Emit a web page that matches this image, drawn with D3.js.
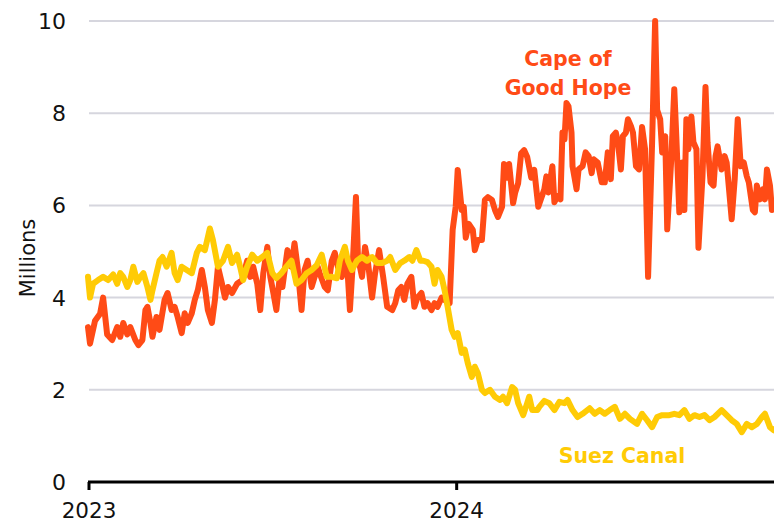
<!DOCTYPE html>
<html lang="en">
<head>
<meta charset="utf-8">
<title>Cape of Good Hope vs Suez Canal</title>
<script src="https://d3js.org/d3.v7.min.js"></script>
<style>
  html, body { margin: 0; padding: 0; background: #fff; }
  svg text { font-family: "DejaVu Sans", "Noto Sans", sans-serif; }
</style>
</head>
<body>
<div id="container"></div>
<script>
// days since 1 Jan 2023 and values (millions)
var capeDays = [0,2,7,12,15,19,24,29,32,35,39,42,47,50,54,57,59,62,64,68,71,76,79,83,86,89,93,96,99,103,106,109,113,116,119,123,126,129,133,136,139,143,148,153,158,161,164,168,171,174,178,181,184,187,190,193,198,202,205,208,212,215,218,222,225,228,230,235,238,242,245,248,252,255,258,260,263,266,268,272,275,278,282,285,289,293,297,302,305,308,311,314,317,321,324,327,331,334,337,341,344,347,351,354,359,362,365,367,371,373,375,378,382,384,387,391,394,397,401,404,407,411,413,416,418,422,424,427,430,433,436,440,443,447,453,455,457,461,463,466,469,471,473,475,477,480,481,485,487,491,494,497,500,502,506,510,513,516,519,521,524,526,529,531,534,536,539,541,544,547,550,553,556,560,563,565,568,570,573,575,579,582,584,587,590,592,594,596,599,601,604,606,610,613,615,618,621,623,625,629,632,634,639,642,645,648,651,654,656,660,662,664,667,670,672,674,677,679,681];
var capeValues = [3.36,3.0,3.5,3.65,4.0,3.2,3.08,3.36,3.15,3.45,3.2,3.36,3.08,2.97,3.08,3.73,3.8,3.45,3.15,3.58,3.3,3.95,4.1,3.73,3.8,3.58,3.23,3.66,3.45,3.66,3.95,4.16,4.6,4.23,3.73,3.45,3.95,4.67,4.3,4.0,4.23,4.1,4.3,4.38,4.8,4.45,4.67,4.3,3.73,4.53,5.1,4.45,4.1,3.73,4.38,4.23,5.03,4.67,5.18,4.67,3.73,4.6,4.8,4.23,4.45,4.67,4.53,4.23,4.16,4.8,4.97,4.67,4.45,4.88,4.45,3.73,4.8,6.18,4.88,4.45,5.1,4.75,4.0,4.53,5.03,4.45,3.8,3.73,3.88,4.16,4.23,3.95,4.3,4.45,3.8,4.0,4.1,3.8,3.88,3.73,3.88,3.8,4.0,3.95,3.88,5.47,5.97,6.77,5.9,5.97,5.3,5.6,5.47,5.03,5.25,5.25,6.12,6.18,6.12,5.9,5.75,5.97,6.9,6.6,6.9,6.05,6.27,6.48,7.13,7.2,7.05,6.6,6.77,5.97,6.35,6.63,6.28,6.85,6.07,6.2,6.13,7.58,7.43,8.22,8.15,7.58,6.85,6.35,6.78,6.85,7.15,7.07,6.7,7.0,6.93,6.5,6.5,7.15,6.57,7.5,7.58,7.37,6.78,7.5,7.58,7.87,7.72,7.58,6.85,6.78,7.7,7.22,4.45,7.37,10.0,8.07,7.87,7.15,7.5,5.48,7.0,8.52,7.5,5.85,6.93,5.9,7.87,7.22,7.93,7.37,7.22,5.08,6.63,8.57,7.37,6.5,6.43,7.07,7.28,6.78,7.07,6.93,5.7,6.57,7.87,6.85,6.93,6.63,6.5,5.9,5.85,6.43,6.13,6.35,6.13,6.78,6.43,5.9,5.97];

var suezDays = [0,2,5,10,15,20,25,29,32,35,39,42,45,49,52,55,59,62,64,68,71,74,78,83,86,89,93,98,103,108,111,116,121,124,129,134,139,143,148,151,154,158,163,168,173,178,183,187,192,197,202,207,212,217,222,227,232,237,242,247,250,255,258,262,267,272,277,282,287,292,297,300,305,310,314,319,322,326,330,333,337,341,344,347,351,354,357,361,364,367,371,374,377,381,384,387,391,394,399,404,409,412,416,421,424,427,432,436,438,441,446,448,453,458,463,468,473,476,481,486,491,498,503,508,513,518,523,528,533,538,545,550,555,560,565,570,577,582,587,592,597,602,607,612,617,622,629,634,639,644,649,654,659,664,669,672,677,681];
var suezValues = [4.45,4.0,4.3,4.38,4.45,4.38,4.5,4.3,4.53,4.45,4.23,4.38,4.67,4.34,4.45,4.53,4.23,3.95,4.16,4.53,4.8,4.88,4.67,4.97,4.53,4.38,4.67,4.6,4.53,4.97,5.1,5.03,5.5,5.25,4.67,4.8,5.1,4.75,4.93,4.67,4.38,4.67,4.93,4.8,4.88,4.97,4.53,4.42,4.53,4.67,4.8,4.3,4.38,4.53,4.6,4.7,4.93,4.45,4.45,4.42,4.8,5.1,4.8,4.6,4.8,4.88,4.8,4.88,4.75,4.75,4.8,4.88,4.6,4.75,4.8,4.88,4.8,5.03,4.8,4.8,4.77,4.67,4.3,4.6,4.45,4.16,3.8,3.3,3.15,3.23,2.8,2.87,2.58,2.28,2.5,2.36,2.0,1.93,2.0,1.85,1.78,1.85,1.71,2.06,2.0,1.71,1.45,1.71,1.85,1.56,1.56,1.63,1.76,1.71,1.56,1.74,1.71,1.78,1.56,1.41,1.48,1.6,1.48,1.56,1.48,1.56,1.63,1.37,1.48,1.37,1.26,1.48,1.34,1.19,1.41,1.45,1.45,1.48,1.45,1.56,1.37,1.45,1.41,1.45,1.34,1.41,1.56,1.45,1.34,1.26,1.08,1.26,1.19,1.26,1.41,1.48,1.19,1.12];

var yTicks = [0, 2, 4, 6, 8, 10];
var yearTicks = ["2023-01-01", "2024-01-01"];
var yearLabels = ["2023", "2024"];
var capeLabel = ["Cape of", "Good Hope"];
var suezLabel = "Suez Canal";
var yTitle = "Millions";

var w = 774, h = 522;
var orange = "#ff4b16", yellow = "#ffcb05";

var start = new Date(2023, 0, 1);
var toDate = function(d) { return d3.timeDay.offset(start, d); };
var cape = capeDays.map(function(d, i) { return { date: toDate(d), value: capeValues[i] }; });
var suez = suezDays.map(function(d, i) { return { date: toDate(d), value: suezValues[i] }; });

var svg = d3.select("#container").append("svg")
  .attr("width", w).attr("height", h);

var x = d3.scaleTime().domain([start, toDate(681)]).range([88, 774]);
var y = d3.scaleLinear().domain([0, 10]).range([482, 21]);

// grid lines
svg.selectAll("line.grid")
  .data(yTicks.filter(function(t) { return t > 0; }))
  .enter().append("line")
  .attr("class", "grid")
  .attr("x1", 89).attr("x2", w)
  .attr("y1", function(d) { return y(d); })
  .attr("y2", function(d) { return y(d); })
  .attr("stroke", "#d6d6de").attr("stroke-width", 2);

// y labels
svg.selectAll("text.ylab")
  .data(yTicks)
  .enter().append("text")
  .attr("class", "ylab")
  .attr("x", 66)
  .attr("y", function(d) { return y(d); })
  .attr("dy", "0.36em")
  .attr("text-anchor", "end")
  .attr("font-size", 22)
  .attr("fill", "#111")
  .text(function(d) { return d; });

svg.append("text")
  .attr("transform", "translate(35,258) rotate(-90)")
  .attr("text-anchor", "middle")
  .attr("font-size", 21)
  .attr("fill", "#111")
  .text(yTitle);

var line = d3.line()
  .x(function(d) { return x(d.date); })
  .y(function(d) { return y(d.value); });

svg.append("path")
  .datum(cape)
  .attr("d", line)
  .attr("fill", "none")
  .attr("stroke", orange)
  .attr("stroke-width", 6)
  .attr("stroke-linejoin", "round")
  .attr("stroke-linecap", "round");

svg.append("path")
  .datum(suez)
  .attr("d", line)
  .attr("fill", "none")
  .attr("stroke", yellow)
  .attr("stroke-width", 6)
  .attr("stroke-linejoin", "round")
  .attr("stroke-linecap", "round");

// x axis
svg.append("line")
  .attr("x1", 88).attr("x2", w)
  .attr("y1", y(0)).attr("y2", y(0))
  .attr("stroke", "#000").attr("stroke-width", 3);

var parse = d3.timeParse("%Y-%m-%d");
svg.selectAll("line.xtick")
  .data(yearTicks)
  .enter().append("line")
  .attr("class", "xtick")
  .attr("x1", function(d) { return x(parse(d)) + 1; })
  .attr("x2", function(d) { return x(parse(d)) + 1; })
  .attr("y1", y(0)).attr("y2", y(0) + 8)
  .attr("stroke", "#000").attr("stroke-width", 3);

svg.selectAll("text.xlab")
  .data(yearTicks)
  .enter().append("text")
  .attr("class", "xlab")
  .attr("x", function(d) { return x(parse(d)) + 1; })
  .attr("y", 518)
  .attr("text-anchor", "middle")
  .attr("font-size", 21.5)
  .attr("fill", "#111")
  .text(function(d, i) { return yearLabels[i]; });

// series labels
svg.selectAll("text.cape")
  .data(capeLabel)
  .enter().append("text")
  .attr("class", "cape")
  .attr("x", 568)
  .attr("y", function(d, i) { return 66 + i * 29; })
  .attr("text-anchor", "middle")
  .attr("font-size", 20.5)
  .attr("font-weight", "bold")
  .attr("fill", orange)
  .text(function(d) { return d; });

svg.append("text")
  .attr("x", 622).attr("y", 463)
  .attr("text-anchor", "middle")
  .attr("font-size", 20.5)
  .attr("font-weight", "bold")
  .attr("fill", yellow)
  .text(suezLabel);
</script>
</body>
</html>
